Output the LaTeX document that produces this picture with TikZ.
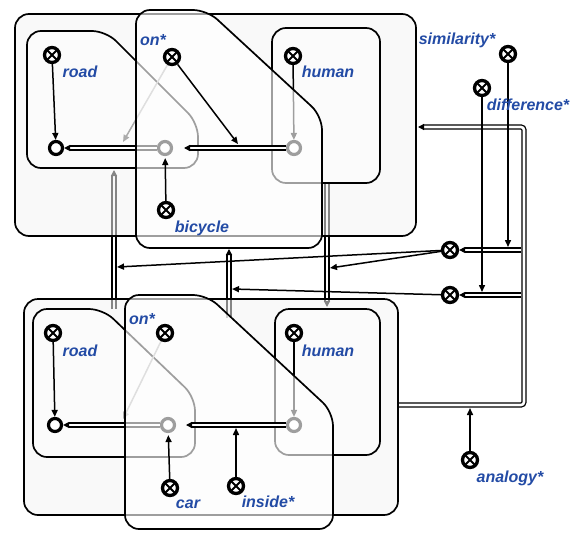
\documentclass[tikz,border=0pt]{standalone}
\usepackage{fontspec}
\setmainfont{Liberation Sans}
\usetikzlibrary{arrows.meta,calc}
\definecolor{lblue}{RGB}{35,75,165}
\definecolor{boxfill}{RGB}{244,244,244}
\begin{document}
\begin{tikzpicture}[x=1pt,y=-1pt,
 box/.style={draw=black, line width=1.7pt, rounded corners=14pt, fill=boxfill, fill opacity=0.55},
 inbox/.style={draw=black, line width=1.7pt, rounded corners=14pt, fill=white, fill opacity=0.45},
 veil/.style={draw=black, line width=1.7pt, rounded corners=14pt, fill=white, fill opacity=0.62},
 xnode/.style={circle, draw=black, line width=3.3pt, fill=white, minimum size=15pt, inner sep=0pt,
   path picture={\draw[line width=2pt] (path picture bounding box.north west) -- (path picture bounding box.south east)
     (path picture bounding box.north east) -- (path picture bounding box.south west);}},
 onode/.style={circle, draw=black, line width=3.2pt, fill=white, minimum size=13pt, inner sep=0pt},
 lbl/.style={font=\fontsize{16}{18}\selectfont\bfseries\itshape, text=lblue, inner sep=0pt},
 arr/.style={line width=1.5pt, -{Triangle[length=7pt,width=6pt]}},
 garr/.style={line width=1.5pt, draw=black!33, -{Triangle[length=7pt,width=6pt]}},
 dbl/.style={draw=black, line width=1.3pt, double=white, double distance=2.6pt, -{Triangle[length=6pt,width=6pt]}},
]
\useasboundingbox (0,0) rectangle (583,533);

% ---------- right-hand relation nodes ----------
\node[xnode] (xsim) at (508,54) {};
\node[xnode] (xdif) at (482,88) {};
\node[xnode] (xs) at (450,250) {};
\node[xnode] (xd) at (450,295) {};
\node[xnode] (xan) at (470,460) {};

% ---------- connectors between the two panels ----------
\coordinate (d1t) at (114,170); \coordinate (d1b) at (114,309);
\coordinate (d2t) at (229,249); \coordinate (d2b) at (229,318);
\coordinate (d3t) at (327,183); \coordinate (d3b) at (327,307);
\draw[dbl] (d1b) -- (d1t);
\draw[dbl] (d2b) -- (d2t);
\draw[dbl] (d3t) -- (d3b);
\coordinate (a1) at (117,267); \coordinate (a3) at (330,268); \coordinate (a2) at (232,289);
\draw[arr] (xs) -- (a1);
\draw[arr] (xs) -- (a3);
\draw[arr] (xd) -- (a2);

% ---------- analogy double line ----------
\coordinate (an1) at (399,405); \coordinate (an2) at (524,405);
\coordinate (an3) at (524,127); \coordinate (an4) at (418,127);
\draw[dbl, rounded corners=3pt] (an1) -- (an2) -- (an3) -- (an4);
\coordinate (s0) at (521,250); \coordinate (t0) at (521,295);
\draw[dbl] (s0) -- (xs);
\draw[dbl] (t0) -- (xd);
\coordinate (sTip) at (508,247); \coordinate (dTip) at (482,292);
\coordinate (anTip) at (470,408);
\draw[arr] (xsim) -- (sTip);
\draw[arr] (xdif) -- (dTip);
\draw[arr] (xan) -- (anTip);

% =============== TOP PANEL ===============
\draw[box] (15,14) rectangle (416,236);
\draw[inbox] (27,168) -- (27,31) -- (106,31) -- (198,123) -- (198,168) -- cycle;
\draw[inbox] (272,28) rectangle (380,183);

\node[xnode] (Trx) at (52,55) {};
\node[onode] (Tro) at (56,148) {};
\draw[arr] (Trx) -- (Tro);
\node[xnode] (Thx) at (293,56) {};
\node[onode] (Tho) at (294,148) {};
\draw[arr] (Thx) -- (Tho);
\node[onode] (Tbo) at (165,148) {};
\draw[dbl] (Tbo) -- (Tro);
\coordinate (Tonc) at (172,57); \coordinate (Tg) at (123,142);
\draw[garr] (Tonc) -- (Tg);

\draw[veil] (136,248) -- (136,10) -- (207,10) -- (322,116) -- (322,248) -- cycle;

\node[xnode] (Tox) at (Tonc) {};
\coordinate (Tot) at (238,144);
\draw[arr] (Tox) -- (Tot);
\node[xnode] (Tbx) at (166,210) {};
\draw[arr, shorten >=2pt] (Tbx) -- (Tbo);
\coordinate (Tbtip) at (184,148);
\draw[dbl] (Tho) -- (Tbtip);

\node[lbl] (Lroad1) at (80,72) {road};
\node[lbl] (Lon1) at (153,40) {on*};
\node[lbl] (Lhum1) at (328,72) {human};
\node[lbl] (Lbic) at (202,228) {bicycle};

% =============== BOTTOM PANEL ===============
\draw[box] (24,299) rectangle (398,515);
\draw[inbox] (33,457) -- (33,309) -- (103,309) -- (195,397) -- (195,457) -- cycle;
\draw[inbox] (275,309) rectangle (380,455);

\node[xnode] (Brx) at (53,333) {};
\node[onode] (Bro) at (55,425) {};
\draw[arr] (Brx) -- (Bro);
\node[xnode] (Bhx) at (294,333) {};
\node[onode] (Bho) at (294,425) {};
\draw[arr] (Bhx) -- (Bho);
\node[onode] (Bco) at (168,425) {};
\draw[dbl] (Bco) -- (Bro);
\coordinate (Bonc) at (165,333); \coordinate (Bg) at (123,419);
\draw[garr] (Bonc) -- (Bg);

\draw[veil] (125,529) -- (125,295) -- (207,295) -- (333,412) -- (333,529) -- cycle;

\node[xnode] (Box) at (Bonc) {};
\node[xnode] (Bcx) at (170,488) {};
\draw[arr, shorten >=2pt] (Bcx) -- (Bco);
\node[xnode] (Bix) at (236,486) {};
\coordinate (Bit) at (236,428);
\draw[arr] (Bix) -- (Bit);
\coordinate (Bctip) at (186,425);
\draw[dbl] (Bho) -- (Bctip);

\node[lbl] (Lroad2) at (80,351) {road};
\node[lbl] (Lon2) at (142,319) {on*};
\node[lbl] (Lhum2) at (328,351) {human};
\node[lbl] (Lcar) at (188,504) {car};
\node[lbl] (Lins) at (268,502) {inside*};

% ---------- right labels ----------
\node[lbl] (Lsim) at (457,40) {similarity*};
\node[lbl] (Ldif) at (528,105) {difference*};
\node[lbl] (Lana) at (510,478) {analogy*};
\end{tikzpicture}
\end{document}
